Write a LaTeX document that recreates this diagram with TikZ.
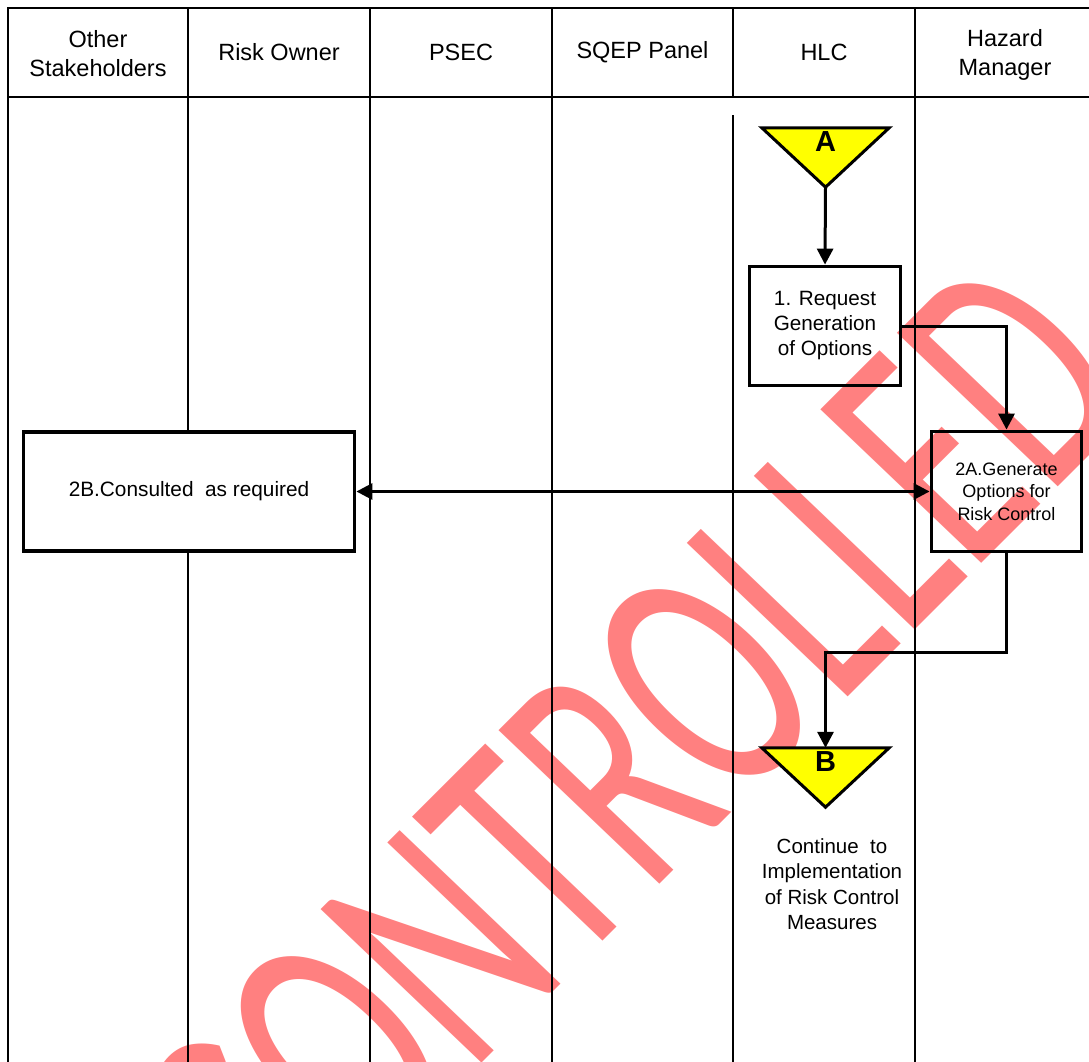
\documentclass[tikz,border=0pt]{standalone}
\usepackage{fontspec}
\setmainfont{Liberation Sans}
\newfontfamily\wmfont{Carlito}
\usetikzlibrary{arrows.meta,calc}
\definecolor{wmpink}{RGB}{255,128,128}
\definecolor{flagyellow}{RGB}{255,255,0}
\begin{document}
\begin{tikzpicture}[x=1pt,y=-1pt,
  lane/.style={line width=2.3pt, line cap=rect},
  stepbox/.style={draw, line width=3.8pt, inner sep=0pt, align=center},
  conn/.style={line width=3pt, -{Triangle[length=16pt,width=16pt]}},
  twoway/.style={line width=3pt, {Triangle[length=16pt,width=16pt]}-{Triangle[length=16pt,width=16pt]}},
  hdr/.style={align=center, inner sep=0pt, font=\fontsize{23.5}{29}\selectfont},
  flag/.style={minimum width=127pt, minimum height=59pt, inner sep=0pt},
  flagtri/.style={draw, line width=3pt, fill=flagyellow, line join=miter},
  flagtxt/.style={font=\bfseries\fontsize{29}{29}\selectfont, inner sep=0pt, anchor=north},
  note/.style={align=center, inner sep=0pt, font=\fontsize{20.5}{25.5}\selectfont},
  wm/.style={inner sep=0pt, transform shape, text=wmpink,
    font=\wmfont\fontsize{100}{100}\selectfont}
]
\useasboundingbox (0,0) rectangle (1089,1062);

% watermark behind everything (slanted, condensed lettering)
\begin{scope}
  \clip (0,0) rectangle (1089,1062);
  \begin{scope}[shift={(837.5,707.4)}, cm={1.578,1.576,-2.507,2.393,(0,0)}]
    \node[wm, anchor=base east] (wmA) at (0,0) {UNCONTRO};
    \node[wm, anchor=base west] (wmB) at (0,0) {LLED};
  \end{scope}
\end{scope}

% swimlane frame
\draw[lane] (1089,8) -- (8,8) -- (8,1062);
\draw[lane] (8,97) -- (1089,97);
\draw[lane] (188,8) -- (188,431);
\draw[lane] (188,553) -- (188,1062);
\draw[lane] (370,8) -- (370,1062);
\draw[lane] (552,8) -- (552,1062);
\draw[lane] (733,8) -- (733,97);
\draw[lane] (733,116) -- (733,1062);
\draw[lane] (915,8) -- (915,1062);

% lane headings
\node[hdr] (hOther)  at (98,54)     {Other\\Stakeholders};
\node[hdr] (hOwner)  at (279,52)    {Risk Owner};
\node[hdr] (hPSEC)   at (461,52)    {PSEC};
\node[hdr] (hSQEP)   at (642.5,52)  {SQEP Panel};
\node[hdr] (hHLC)    at (824,52)    {HLC};
\node[hdr] (hHazard) at (1005,55)   {Hazard\\Manager};

% process steps
\node[stepbox, minimum width=151pt, minimum height=119pt,
      font=\fontsize{20.7}{25}\selectfont] (box1) at (825,326)
      {1. Request\\Generation\\of Options};
\node[stepbox, minimum width=150pt, minimum height=120pt,
      font=\fontsize{18}{22.5}\selectfont] (box2a) at (1006.5,491.5)
      {2A.Generate\\Options for\\Risk Control};
\node[stepbox, minimum width=331pt, minimum height=119pt,
      font=\fontsize{20.8}{25}\selectfont] (box2b) at (189,491.5)
      {2B.Consulted\ \ as required};

% off-page connectors
\node[flag] (triA) at (825.5,157.5) {};
\draw[flagtri] (triA.north west) -- (triA.north east) -- (triA.south) -- cycle;
\node[flagtxt] (labA) at ([yshift=-4pt]triA.north) {A};

\node[flag] (triB) at (825.5,777.5) {};
\draw[flagtri] (triB.north west) -- (triB.north east) -- (triB.south) -- cycle;
\node[flagtxt] (labB) at ([yshift=-4pt]triB.north) {B};

\node[note] (cont) at (832,884) {Continue\ \ to\\Implementation\\of Risk Control\\Measures};

% connectors
\draw[conn] (triA.south) -- (box1.north);
\draw[conn] (box1.east) -| (box2a.north);
\draw[twoway] (box2b.east) -- (box2a.west);
\draw[conn] (box2a.south) -- ++(0,99) -| (triB.north);
\end{tikzpicture}
\end{document}
